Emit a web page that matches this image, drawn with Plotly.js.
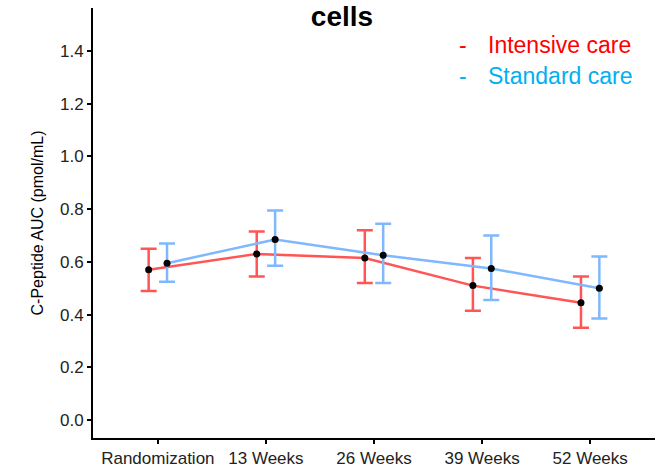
<!DOCTYPE html>
<html>
<head>
<meta charset="utf-8">
<script src="https://cdn.plot.ly/plotly-3.0.1.min.js"></script>
<style>html,body{margin:0;padding:0;background:#fff;}#chart{width:658px;height:468px;}</style>
</head>
<body>
<div id="chart"></div>
<script>
const categories = ["Randomization", "13 Weeks", "26 Weeks", "39 Weeks", "52 Weeks"];
const intensiveMean = [0.570, 0.630, 0.615, 0.510, 0.445];
const intensiveUpper = [0.650, 0.715, 0.720, 0.615, 0.545];
const intensiveLower = [0.490, 0.545, 0.520, 0.415, 0.350];
const standardMean = [0.595, 0.685, 0.625, 0.575, 0.500];
const standardUpper = [0.670, 0.795, 0.745, 0.700, 0.620];
const standardLower = [0.525, 0.585, 0.520, 0.455, 0.385];
const yTicks = [0.0, 0.2, 0.4, 0.6, 0.8, 1.0, 1.2, 1.4];

const dodge = 0.085;
const idx = categories.map((c, i) => i);

function series(mean, up, lo, off, color, name) {
  return {
    type: 'scatter', mode: 'lines+markers', name: name,
    x: idx.map(i => i + off), y: mean,
    line: {color: color, width: 2.5},
    marker: {color: '#000', size: 7},
    error_y: {type: 'data', symmetric: false,
      array: mean.map((m, i) => up[i] - m),
      arrayminus: mean.map((m, i) => m - lo[i]),
      color: color, thickness: 2.5, width: 8},
    showlegend: false
  };
}

const data = [
  series(intensiveMean, intensiveUpper, intensiveLower, -dodge, '#FF5555', 'Intensive care'),
  series(standardMean, standardUpper, standardLower, dodge, '#7FB8FF', 'Standard care')
];

const fam = 'Liberation Sans, Arial, sans-serif';
const legendSize = 23;
const layout = {
  width: 658, height: 468,
  margin: {l: 93, r: 3, t: 8, b: 30},
  paper_bgcolor: '#fff', plot_bgcolor: '#fff',
  font: {family: fam, color: '#000'},
  title: {text: '<b>cells</b>', x: (342-93)/562, xanchor: 'center', xref: 'paper',
    y: 1 - 16/468, yanchor: 'middle', yref: 'container',
    font: {family: fam, size: 28, color: '#000'}},
  xaxis: {
    range: [-0.6, 4.6], tickvals: idx, ticktext: categories,
    showgrid: false, zeroline: false, showline: true, linecolor: '#000', linewidth: 2,
    ticks: 'outside', ticklen: 4, tickwidth: 2, tickcolor: '#000',
    tickfont: {family: fam, size: 17, color: '#222'}
  },
  yaxis: {
    range: [-0.068, 1.563], tickvals: yTicks, ticktext: yTicks.map(v => v.toFixed(1)),
    showgrid: false, zeroline: false, showline: true, linecolor: '#000', linewidth: 2,
    ticks: 'outside', ticklen: 4, tickwidth: 2, tickcolor: '#000',
    tickfont: {family: fam, size: 17, color: '#222'},
    title: {text: 'C-Peptide AUC (pmol/mL)', font: {family: fam, size: 16, color: '#000'}, standoff: 12}
  },
  annotations: [
    {xref: 'paper', yref: 'paper', x: (463-93)/562, y: 1 - (45-8)/430, text: '-', showarrow: false,
      font: {family: fam, size: legendSize, color: '#FF0000'}, xanchor: 'center', yanchor: 'middle'},
    {xref: 'paper', yref: 'paper', x: (486-93)/562, y: 1 - (45-8)/430, text: 'Intensive care', showarrow: false,
      font: {family: fam, size: legendSize, color: '#FF0000'}, xanchor: 'left', yanchor: 'middle'},
    {xref: 'paper', yref: 'paper', x: (463-93)/562, y: 1 - (76-8)/430, text: '-', showarrow: false,
      font: {family: fam, size: legendSize, color: '#00B0F0'}, xanchor: 'center', yanchor: 'middle'},
    {xref: 'paper', yref: 'paper', x: (486-93)/562, y: 1 - (76-8)/430, text: 'Standard care', showarrow: false,
      font: {family: fam, size: legendSize, color: '#00B0F0'}, xanchor: 'left', yanchor: 'middle'}
  ]
};

Plotly.newPlot('chart', data, layout, {displayModeBar: false, staticPlot: true});
</script>
</body>
</html>
